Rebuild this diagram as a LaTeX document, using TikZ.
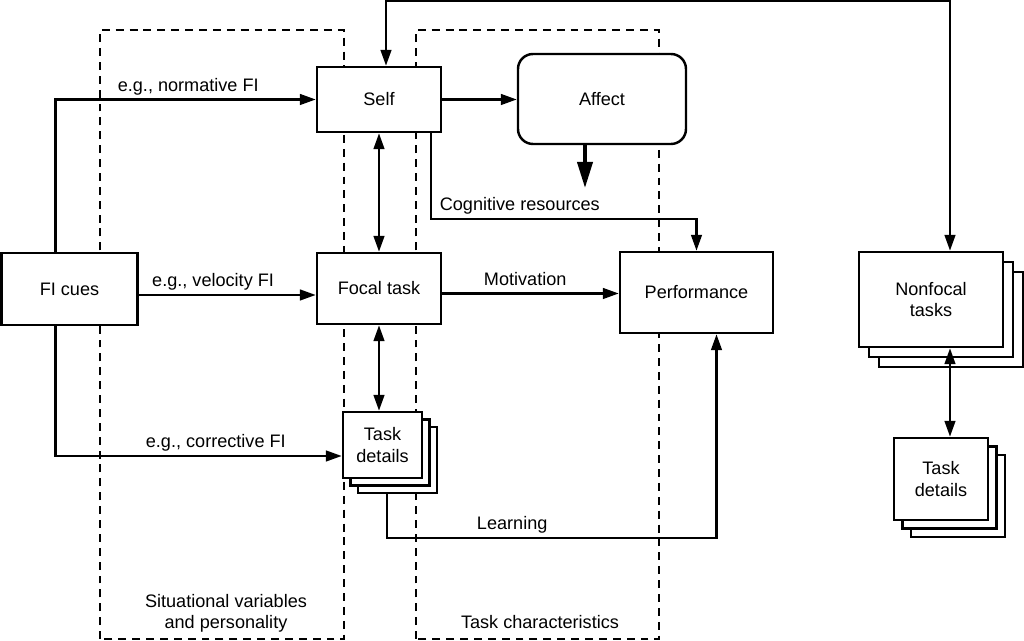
\documentclass[tikz,border=0pt]{standalone}
\usepackage{fontspec}
\setmainfont{Liberation Sans}
\usepackage{tikz}
\usetikzlibrary{arrows.meta, positioning, shadows, calc}

\begin{document}
\begin{tikzpicture}[
    font=\fontsize{10.3}{12.3}\selectfont,
    line width=1.4pt,
    >={Triangle[length=9pt, width=6pt]},
    box/.style={draw, fill=white, align=center, inner sep=2pt},
    stack/.style={box, copy shadow={shadow xshift=2*#1, shadow yshift=-2*#1, line width=1.4pt}, copy shadow={shadow xshift=#1, shadow yshift=-#1, line width=1.4pt}},
    frame/.style={draw, line width=1.2pt, dash pattern=on 4.5pt off 3.4pt},
    lbl/.style={above, inner sep=1.5pt, text depth=2.5pt},
]
    \useasboundingbox (0,0) rectangle (20.48,12.82);

    % dashed frames
    \draw[frame] (2.0,0.04) rectangle (6.88,12.22);
    \draw[frame] (8.32,0.04) rectangle (13.18,12.22);
    \node[align=center] (sit) at (4.52,0.55) {Situational variables\\and personality};
    \node (taskch) at (10.8,0.38) {Task characteristics};

    \node[box, minimum width=2.72cm, minimum height=1.44cm] (fi) at (1.39,7.04) {FI cues};
    \node[box, minimum width=2.48cm, minimum height=1.30cm] (self) at (7.58,10.83) {Self};
    \node[box, rounded corners=0.3cm, minimum width=3.36cm, minimum height=1.80cm] (affect) at (12.04,10.84) {Affect};
    \node[box, minimum width=2.48cm, minimum height=1.42cm] (focal) at (7.58,7.05) {Focal task};
    \node[box, minimum width=3.06cm, minimum height=1.62cm] (perf) at (13.93,6.97) {Performance};
    \node[stack=0.15cm, minimum width=1.58cm, minimum height=1.32cm] (tda) at (7.65,3.92) {Task\\details};
    \node[stack=0.2cm, minimum width=2.88cm, minimum height=1.90cm] (nonfocal) at (18.62,6.83) {Nonfocal\\tasks};
    \node[stack=0.17cm, minimum width=1.88cm, minimum height=1.64cm] (tdb) at (18.82,3.24) {Task\\details};

    % feedback cues
    \draw[->] ([xshift=-0.28cm]fi.north) |- (self.west) node[lbl, pos=0.755] {e.g., normative FI};
    \draw[->] ([yshift=-0.12cm]fi.east) -- ([yshift=-0.12cm]fi.east -| focal.west) node[lbl, pos=0.42] {e.g., velocity FI};
    \draw[->] ([xshift=-0.28cm]fi.south) |- ([yshift=-0.22cm]tda.west) node[lbl, pos=0.78] {e.g., corrective FI};

    \draw[->] (self.east) -- (self.east -| affect.west);
    \draw[<->] (self.south) -- (focal.north);
    \draw[<->] (focal.south) -- (focal.south |- tda.north);
    \draw[->] ([yshift=-0.1cm]focal.east) -- ([yshift=-0.1cm]focal.east -| perf.west) node[lbl, pos=0.47] {Motivation};
    \draw[->] ([xshift=1.04cm]self.south) -- ++(0,-1.72) node[lbl, anchor=south west, xshift=0.1cm] {Cognitive resources} -| (perf.north);

    \coordinate (affdown) at ([xshift=-0.34cm, yshift=-0.86cm]affect.south);
    \draw[line width=2.4pt, -{Triangle[length=15pt, width=8.5pt]}] (affect.south -| affdown) -- (affdown);

    \draw[->] ([xshift=0.09cm, yshift=-0.3cm]tda.south) -- ++(0,-0.88) -| ([xshift=0.4cm]perf.south) node[lbl, pos=0.19] {Learning};

    % nonfocal tasks
    \draw[<->] ([xshift=0.14cm]self.north) -- ++(0,1.3) -| ([xshift=0.38cm]nonfocal.north);
    \draw[<->] ([xshift=0.38cm]nonfocal.south) -- ([xshift=0.38cm]nonfocal.south |- tdb.north);
\end{tikzpicture}
\end{document}
